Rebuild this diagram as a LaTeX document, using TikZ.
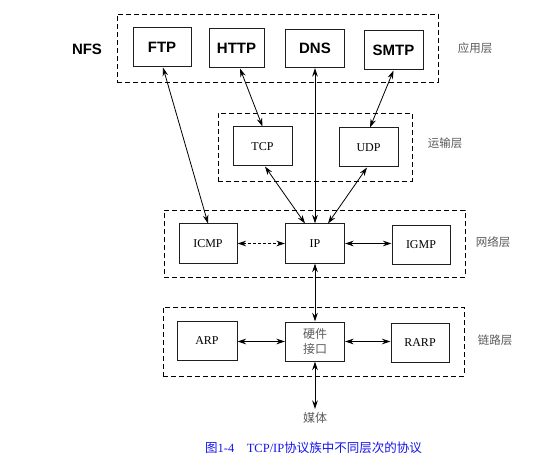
\documentclass[tikz,border=0pt]{standalone}
\usepackage{fontspec}
\setmainfont{Liberation Serif}
\newfontfamily\arialfont{Liberation Sans}
\newfontfamily\cjk{Noto Sans CJK SC}
\usetikzlibrary{arrows.meta}
\definecolor{boxline}{RGB}{30,30,30}
\definecolor{layergray}{RGB}{90,90,90}
\definecolor{capblue}{RGB}{20,20,235}
\begin{document}
\begin{tikzpicture}[x=1pt,y=-1pt,
  appbox/.style={draw=boxline,line width=1pt,minimum width=58pt,minimum height=39pt,inner sep=0pt,font=\arialfont\bfseries\fontsize{15}{17}\selectfont},
  protobox/.style={draw=boxline,line width=1pt,minimum width=58pt,minimum height=39pt,inner sep=0pt,font=\fontsize{12}{13}\selectfont},
  layerbox/.style={draw=black,dashed,dash pattern=on 5pt off 3pt,line width=0.9pt,inner sep=0pt},
  layerlabel/.style={text=layergray,font=\cjk\fontsize{11.5}{13}\selectfont,inner sep=0pt},
  link/.style={draw=black,line width=0.8pt,{Stealth[length=8.5pt,width=5.5pt]}-{Stealth[length=8.5pt,width=5.5pt]}}
]
\useasboundingbox (0,0) rectangle (546,465);
% layer boxes
\node[layerbox,minimum width=321pt,minimum height=68pt] (app) at (277.5,48) {};
\node[layerbox,minimum width=194pt,minimum height=68pt] (trans) at (315,147) {};
\node[layerbox,minimum width=301pt,minimum height=67pt] (net) at (314.5,243.5) {};
\node[layerbox,minimum width=301pt,minimum height=69pt] (lnk) at (313.5,341.5) {};
% application
\node[appbox] (ftp) at (162,47.5) {FTP};
\node[appbox,minimum width=55pt] (http) at (236.5,48.5) {HTTP};
\node[appbox,minimum width=59pt,minimum height=38pt] (dns) at (315,48.5) {DNS};
\node[appbox,minimum width=59pt] (smtp) at (393.5,50.5) {SMTP};
\node[font=\arialfont\bfseries\fontsize{15}{17}\selectfont,inner sep=0pt] (nfs) at (87,49) {NFS};
% transport
\node[protobox,minimum width=59pt] (tcp) at (262.5,146.5) {TCP};
\node[protobox,minimum width=59pt] (udp) at (368.5,147.5) {UDP};
% network
\node[protobox] (icmp) at (208,243.5) {ICMP};
\node[protobox,minimum width=59pt] (ip) at (315,243.5) {IP};
\node[protobox,minimum height=38pt] (igmp) at (421,245) {IGMP};
% link
\node[protobox,minimum width=60pt] (arp) at (207,340.5) {ARP};
\node[protobox,minimum width=59pt,font=\cjk\fontsize{12}{15}\selectfont,text=layergray,align=center] (hw) at (315,341.5) {硬件\\接口};
\node[protobox] (rarp) at (420,342.5) {RARP};
\coordinate (mediaend) at (315,409);
\node[font=\cjk\fontsize{12}{14}\selectfont,text=layergray,inner sep=0pt] (media) at (315,418) {媒体};
% layer labels
\node[layerlabel] (l1) at (475,48) {应用层};
\node[layerlabel] (l2) at (445,143) {运输层};
\node[layerlabel] (l3) at (493,242) {网络层};
\node[layerlabel] (l4) at (495,340) {链路层};
% caption
\node[text=capblue,inner sep=0pt,font=\fontsize{12.5}{14}\selectfont] (cap) at (313.5,448) {{\cjk 图}1-4\hspace{1em}TCP/IP{\cjk 协议族中不同层次的协议}};
% connectors
\draw[link] ([xshift=1pt]ftp.south) -- (icmp.north);
\draw[link] ([xshift=3.5pt]http.south) -- (tcp.north);
\draw[link] (dns.south) -- (ip.north);
\draw[link] (smtp.south) -- ([xshift=1.5pt]udp.north);
\draw[link] ([xshift=2.5pt]tcp.south) -- ([xshift=-10pt]ip.north);
\draw[link] ([xshift=-1.5pt]udp.south) -- ([xshift=13pt]ip.north);
\draw[link,dashed,dash pattern=on 3pt off 2pt] (icmp.east) -- (ip.west);
\draw[link] (ip.east) -- (igmp.west |- ip.east);
\draw[link] (arp.east |- hw.west) -- (hw.west);
\draw[link] (hw.east) -- (rarp.west |- hw.east);
\draw[link] (ip.south) -- (hw.north);
\draw[link] (hw.south) -- (mediaend);
\end{tikzpicture}
\end{document}
